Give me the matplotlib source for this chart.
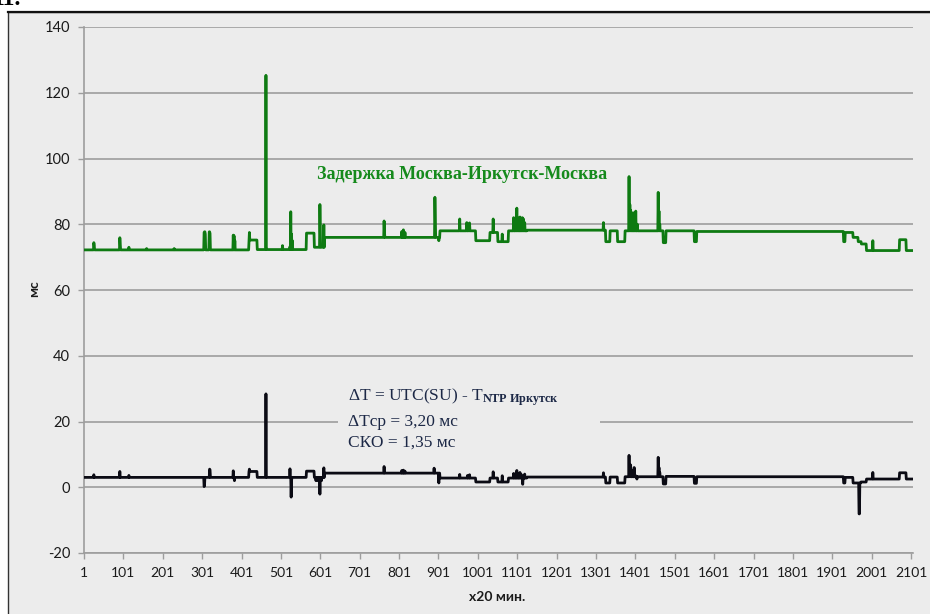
import numpy as np
import matplotlib
matplotlib.use("Agg")
import matplotlib.pyplot as plt
from matplotlib.patches import Rectangle
from matplotlib.lines import Line2D

# ---------------- data ----------------
N_POINTS = 2106

# delay Moscow-Irkutsk-Moscow: step levels (segment start index, level, ms)
green_seg_start = [1, 420, 441, 566, 586, 612, 905, 996, 1032, 1052, 1079, 1126,
                   1326, 1337, 1356, 1375, 1472, 1479, 1551, 1557, 1930, 1934,
                   1954, 1967, 1975, 1988, 2072, 2089]
green_seg_level = [72.2, 75.2, 72.3, 77.3, 73.0, 76.0, 78.0, 75.0, 77.5, 74.7, 78.0, 78.2,
                   74.7, 78.0, 74.7, 78.0, 74.4, 78.0, 74.7, 77.8, 74.7, 77.5,
                   76.0, 74.7, 74.0, 72.0, 75.3, 72.0]
# single-point spikes / dips (index, ms)
green_spike_x = [26, 27, 92, 93, 115, 160, 230, 306, 307, 308, 309, 319, 320, 321,
                 380, 382, 384, 421, 463, 464, 505, 524, 526, 528, 530, 600, 601, 610,
                 763, 764, 808, 812, 816, 892, 893, 902, 955, 973, 977, 980, 1040, 1063,
                 1092, 1096, 1100, 1102, 1105, 1108, 1111, 1114, 1117, 1120, 1320,
                 1385, 1387, 1389, 1392, 1395, 1398, 1402, 1406, 1459, 1461, 1463, 2004]
green_spike_y = [74.4, 73.5, 75.9, 74.0, 73.0, 72.6, 72.6, 77.5, 77.7, 77.7, 77.0, 77.7, 77.7, 77.2,
                 76.7, 76.5, 75.0, 77.5, 125.3, 73.0, 73.5, 73.2, 83.8, 77.0, 75.0, 86.0, 78.0, 79.8,
                 81.0, 77.5, 77.8, 78.3, 77.5, 88.2, 82.0, 75.0, 81.6, 80.5, 80.0, 80.4, 81.6, 77.0,
                 82.0, 81.5, 84.9, 82.0, 81.5, 82.2, 81.5, 82.0, 81.6, 80.5, 80.5,
                 94.5, 86.0, 84.3, 82.0, 83.5, 81.0, 84.0, 80.0, 89.7, 84.0, 80.0, 75.0]

# dT = UTC(SU) - T_NTP Irkutsk
black_seg_start = [1, 420, 441, 566, 586, 612, 905, 996, 1032, 1052, 1079, 1126,
                   1326, 1337, 1356, 1375, 1472, 1479, 1551, 1557, 1930, 1934,
                   1954, 1974, 1988, 2072, 2089]
black_seg_level = [3.0, 4.8, 3.0, 4.9, 3.0, 4.3, 2.8, 1.6, 2.8, 1.6, 2.8, 3.1,
                   1.3, 3.1, 1.3, 3.2, 1.0, 3.3, 1.2, 3.2, 1.3, 3.0,
                   1.3, 1.6, 2.5, 4.4, 2.5]
black_spike_x = [26, 92, 115, 306, 307, 320, 321, 380, 383, 421, 463, 464, 524, 527, 528,
                 590, 595, 600, 604, 610, 763, 808, 812, 816, 890, 902, 955, 975, 980,
                 1040, 1063, 1092, 1096, 1100, 1104, 1108, 1112, 1115, 1120, 1320,
                 1385, 1387, 1389, 1393, 1398, 1402, 1405, 1459, 1461, 1463, 1969, 1970, 2004]
black_spike_y = [3.8, 4.8, 3.6, 0.2, 0.5, 5.5, 5.3, 5.0, 2.0, 5.5, 28.4, 3.5, 5.6, -3.0, 2.0,
                 2.0, 2.0, -2.1, 2.0, 5.9, 6.3, 5.1, 5.2, 4.9, 5.8, 1.3, 3.9, 3.6, 3.8,
                 4.7, 3.5, 4.2, 4.0, 5.1, 4.2, 4.5, 3.8, 0.9, 4.0, 4.4,
                 9.7, 6.5, 6.8, 5.0, 6.0, 3.5, 2.5, 9.1, 6.0, 4.5, -8.1, -8.1, 4.5]

x_tick_values = list(range(1, 2102, 100))
y_tick_values = [-20, 0, 20, 40, 60, 80, 100, 120, 140]

green_label = "Задержка Москва-Иркутск-Москва"
note_lines = ["ΔT = UTC(SU) - T$_{\\mathbf{NTP\\ Иркутск}}$",
              "ΔTср = 3,20 мс",
              "СКО = 1,35 мс"]


def build(seg_start, seg_level, spike_x, spike_y):
    bounds = list(seg_start) + [N_POINTS + 1]
    lengths = np.diff(bounds)
    y = np.repeat(np.asarray(seg_level, float), lengths)
    y[np.asarray(spike_x) - 1] = spike_y
    return y


x = np.arange(1, N_POINTS + 1)
green = build(green_seg_start, green_seg_level, green_spike_x, green_spike_y)
black = build(black_seg_start, black_seg_level, black_spike_x, black_spike_y)

# ---------------- styling ----------------
plt.rcParams['axes.unicode_minus'] = False
plt.rcParams['mathtext.fontset'] = 'custom'
plt.rcParams['mathtext.rm'] = 'Liberation Serif'
plt.rcParams['mathtext.bf'] = 'Liberation Serif:bold'
plt.rcParams['mathtext.it'] = 'Liberation Serif:italic'

BG = '#ececec'
GRID = '#9d9d9d'

fig = plt.figure(figsize=(9.3, 6.14), dpi=100)
fig.patch.set_facecolor('white')

# chart area frame
W, H = 930.0, 614.0
frame = Rectangle((7.5 / W, -0.02), 1.05, (614 - 12) / H + 0.02, transform=fig.transFigure,
                  facecolor=BG, edgecolor='#333333', linewidth=1.0, zorder=-5)
fig.patches.append(frame)
fig.lines.append(Line2D([7.5 / W, 1.0], [1 - 12 / H, 1 - 12 / H], transform=fig.transFigure,
                        color='#111111', linewidth=1.6, zorder=-4))

# cropped caption fragment at the very top (cut off in the reference too)
fig.text(21 / W, 1 - 5 / H, "11.", ha='right', va='baseline', fontsize=17,
         family='Liberation Serif', fontweight='bold', color='black')

ax = fig.add_axes([84 / W, 1 - 553 / H, (913 - 84) / W, (553 - 27) / H])
ax.set_facecolor('none')

ax.plot(x, green, color='#0e7a12', linewidth=2.0, solid_joinstyle='round', zorder=3)
ax.plot(x, black, color='#0b0b14', linewidth=2.0, solid_joinstyle='round', zorder=3)

ax.set_xlim(1, N_POINTS)
ax.set_ylim(-20, 140)
ax.set_yticks(y_tick_values)
ax.set_yticklabels([str(v) for v in y_tick_values])
ax.set_xticks(x_tick_values)
ax.set_xticklabels([str(v) for v in x_tick_values])

ax.grid(axis='y', color=GRID, linewidth=1.2, zorder=0)
ax.set_axisbelow(True)
for s in ['top', 'right']:
    ax.spines[s].set_visible(False)
for s in ['left', 'bottom']:
    ax.spines[s].set_color(GRID)
    ax.spines[s].set_linewidth(1.2)

ax.tick_params(axis='both', length=4, width=1.0, color=GRID, labelcolor='#1a1a1a')
ax.tick_params(axis='y', labelsize=10.5, pad=6)
ax.tick_params(axis='x', labelsize=10, pad=6)
for lab in ax.get_xticklabels() + ax.get_yticklabels():
    lab.set_family('Lato')

fig.text(34 / W, 1 - 289 / H, "мс", rotation=90, ha='center', va='center',
         fontsize=10, fontweight='bold', family='Lato', color='#1a1a1a')
fig.text(497 / W, 1 - 597 / H, "x20 мин.", ha='center', va='center',
         fontsize=10, fontweight='bold', family='Lato', color='#1a1a1a')

# series label
ax.text(593, 95, green_label, ha='left', va='center', fontsize=13,
        family='Liberation Serif', fontweight='bold', color='#158a1c', zorder=4)

# annotation box (hides the grid line behind the text)
ax.add_patch(Rectangle((646, 9), 1311 - 646, 24, facecolor=BG, edgecolor='none', zorder=1))
note_y = [27.5, 20.0, 13.5]
for txt, yy in zip(note_lines, note_y):
    ax.text(671, yy, txt, ha='left', va='center', fontsize=12.5,
            family='Liberation Serif', color='#1c2846', zorder=4)

fig.savefig("out.png", dpi=100, facecolor='white')
